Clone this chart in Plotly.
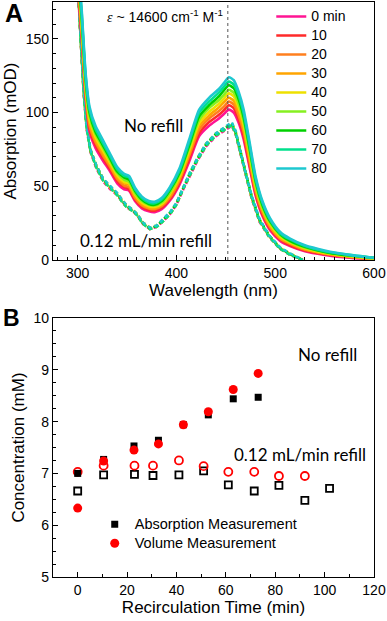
import plotly.graph_objects as go

# ---------------- Panel A data ----------------
wl_solid = [296, 300, 304, 308, 312, 318, 325, 332, 340, 347, 352, 358, 365, 372, 378, 385, 393,
            403, 413, 423, 433, 443, 448, 453, 458, 463, 468, 474, 480, 487, 495, 505, 515, 530,
            550, 575, 600]

no_refill_0 = [230, 185, 150, 110, 87, 76, 68, 61, 52, 48, 47, 40, 35, 33, 32.5, 34.5, 40, 51, 67, 84, 91, 96, 99, 102, 100, 93, 82, 63, 44, 30, 20, 13, 9.5, 6, 3.5, 1.5, 0.5]
no_refill_10 = [233, 188, 153, 112, 89, 78, 70, 62.5, 53.5, 49.5, 48, 41, 36, 34, 33.5, 35.5, 41, 52.5, 69, 86, 93.5, 98.5, 101.5, 105, 103, 95.5, 84.5, 65, 45.5, 31, 21, 14, 10, 6.5, 4, 2, 0.5]
no_refill_20 = [235, 190, 155, 114, 91, 80, 71.5, 64, 55, 50.5, 49.5, 42, 37, 35, 34.5, 36.5, 42, 54, 71, 88.5, 96, 101, 104, 107.5, 105.5, 98, 87, 67, 47, 32.5, 22, 14.5, 11, 7, 4.5, 2, 0.5]
no_refill_30 = [238, 193, 158, 116, 93, 81.5, 73, 65.5, 56, 52, 51, 43.5, 38, 35.5, 35, 37.5, 43.5, 55, 72.5, 91, 98, 103.5, 107, 110, 108, 101, 89.5, 69.5, 49, 34, 23, 15, 11.5, 7.5, 4.5, 2.5, 1]
no_refill_40 = [240, 195, 160, 118.5, 95.5, 83.5, 75, 67, 57.5, 53, 52, 44.5, 39, 36.5, 36, 38, 44.5, 56.5, 74.5, 93, 100.5, 106, 109.5, 113, 111, 103.5, 92, 71.5, 50.5, 35, 24, 16, 12, 8, 5, 2.5, 1]
no_refill_50 = [243, 198, 163, 120.5, 97.5, 85.5, 77, 68.5, 59, 54.5, 53, 45.5, 40, 37.5, 37, 39, 45.5, 58, 76.5, 95, 103, 108.5, 112, 115.5, 113.5, 106, 94.5, 73.5, 52, 36, 25, 17, 12.5, 8.5, 5.5, 3, 1]
no_refill_60 = [245, 200, 165, 123, 100, 87, 78.5, 70, 60, 56, 54.5, 47, 41, 38, 37.5, 40, 47, 59, 78, 97.5, 105, 111, 115, 118.5, 116.5, 109, 97, 76, 54, 37.5, 26, 17.5, 13, 9, 5.5, 3, 1.5]
no_refill_70 = [248, 203, 168, 125, 102, 89, 80, 71.5, 61.5, 57, 56, 48, 42, 39, 38.5, 41, 48, 60.5, 80, 100, 107.5, 113.5, 117.5, 121, 119, 111.5, 99.5, 78, 55.5, 39, 27, 18, 14, 9.5, 6, 3.5, 1.5]
no_refill_80 = [250, 205, 170, 127, 104, 91, 82, 73, 63, 58.5, 57, 49, 43, 40, 39.5, 42, 49, 62, 82, 102, 110, 116, 120, 124, 122, 114, 102, 80, 57, 40, 28, 19, 14.5, 10, 6.5, 3.5, 1.5]

wl_dash = [296, 300, 303, 306, 309, 313, 319, 326, 333, 340, 346, 350, 355, 360, 366, 373, 380, 387,
           394, 400, 407, 414, 421, 430, 440, 447, 452, 456, 460, 464, 469, 476, 484, 494, 505, 515, 528]

refill_0 = [240, 184, 149, 114, 89, 73, 62, 53, 48, 44, 38.5, 35.5, 33.5, 30.5, 24.5, 21, 22.5, 26.5, 31.5, 37.5, 48, 58, 67, 77, 84, 87, 89, 91, 85, 74, 60, 42, 26, 15.5, 7.5, 3.5, 0]
refill_10 = [240, 185, 150, 115, 90, 74, 63, 54, 49, 44.5, 39, 36, 34, 31, 25, 21.5, 23, 27, 32, 38, 49, 59, 68, 78, 85, 88, 90, 92, 86, 75, 61, 43, 27, 16, 8, 4, 0]
refill_20 = [241, 186, 150, 115, 90, 74.5, 63.5, 54.5, 49, 45, 39.5, 36.5, 34.5, 31, 25.5, 22, 23, 27.5, 32.5, 38.5, 49.5, 59.5, 68.5, 78.5, 85.5, 88.5, 90.5, 92.5, 86.5, 75.5, 61, 43, 27, 16, 8, 4, 0]
refill_30 = [239, 184, 149, 114, 89.5, 73.5, 62.5, 53.5, 48.5, 44, 38.5, 35.5, 33.5, 30.5, 24.5, 21, 22.5, 26.5, 31.5, 37.5, 48.5, 58.5, 67.5, 77.5, 84.5, 87.5, 89.5, 91.5, 85.5, 74.5, 60.5, 42.5, 26.5, 15.5, 7.5, 3.5, 0]
refill_40 = [241, 186, 151, 116, 91, 75, 64, 55, 49.5, 45, 39.5, 36.5, 34.5, 31.5, 25.5, 22, 23.5, 27.5, 32.5, 38.5, 49.5, 59.5, 68.5, 79, 86, 89, 91, 93, 87, 76, 61.5, 43.5, 27.5, 16.5, 8.5, 4.5, 0]
refill_50 = [240, 185, 150, 115, 90, 74, 63, 54, 49, 44.5, 39, 36, 34, 31, 25, 21.5, 23, 27, 32, 38, 49, 59, 68, 78, 85, 88, 90, 92, 86, 75, 61, 43, 27, 16, 8, 4, 0]
refill_60 = [241, 186, 150, 115, 90.5, 74.5, 63.5, 54.5, 49.5, 45, 39.5, 36.5, 34, 31, 25, 21.5, 23, 27.5, 32.5, 38.5, 49.5, 59.5, 68.5, 78.5, 85.5, 88.5, 90.5, 92.5, 86.5, 75.5, 61.5, 43.5, 27.5, 16.5, 8, 4, 0]
refill_70 = [239, 184, 149, 114.5, 89.5, 73.5, 62.5, 53.5, 48.5, 44, 38.5, 35.5, 33.5, 30.5, 24.5, 21, 22.5, 26.5, 31.5, 37.5, 48.5, 58.5, 67.5, 77.5, 84.5, 87.5, 89.5, 91.5, 85.5, 74.5, 60.5, 42.5, 26.5, 15.5, 7.5, 3.5, 0]
refill_80 = [241, 186, 151, 116, 91, 75, 64, 55, 50, 45.5, 40, 37, 34.5, 31.5, 25.5, 22, 23.5, 28, 33, 39, 50, 60, 69, 79, 86, 89.5, 91.5, 93.5, 87.5, 76, 62, 44, 28, 16.5, 8.5, 4.5, 0]

time_labels = ["0 min", "10", "20", "30", "40", "50", "60", "70", "80"]
colors = ["#ff1493", "#ff2a2a", "#ff7f1e", "#ffa500", "#eee000", "#86f020", "#00d000", "#00e08c", "#1ec8d0"]

solid_series = [no_refill_0, no_refill_10, no_refill_20, no_refill_30, no_refill_40,
                no_refill_50, no_refill_60, no_refill_70, no_refill_80]
dash_series = [refill_0, refill_10, refill_20, refill_30, refill_40,
               refill_50, refill_60, refill_70, refill_80]

peak_wavelength = 452

# ---------------- Panel B data ----------------
t_norefill = [0, 10.5, 22.8, 32.7, 42.8, 52.9, 63, 73.1]
abs_norefill = [7.0, 7.27, 7.53, 7.64, 7.94, 8.13, 8.44, 8.47]
vol_norefill = [6.33, 7.24, 7.45, 7.57, 7.94, 8.19, 8.62, 8.93]

t_refill_abs = [0, 10.5, 23, 30.5, 41, 51, 61, 71.5, 81.5, 92, 102]
abs_refill = [6.66, 6.97, 6.98, 6.96, 6.97, 7.05, 6.78, 6.66, 6.77, 6.48, 6.71]
t_refill_vol = [0, 10.5, 23, 30.5, 41, 51, 61, 71.5, 81.5, 92]
vol_refill = [7.03, 7.15, 7.15, 7.15, 7.25, 7.14, 7.03, 7.03, 6.95, 6.95]

legend_b_names = ["Absorption Measurement", "Volume Measurement"]

# ---------------- Figure ----------------
FONT = "Liberation Sans, Arial, sans-serif"
ANN_FONT = "Lato, Open Sans, sans-serif"


def big(txt, size=14):
    return f"<span style='font-size:{size}px'>{txt}</span>"


fig = go.Figure()

for ys, c in zip(dash_series, colors):
    fig.add_trace(go.Scatter(x=wl_dash, y=ys, mode="lines", line=dict(color=c, width=2.5, dash="4px,3px"),
                             showlegend=False, xaxis="x", yaxis="y", hoverinfo="skip"))
for ys, c, name in zip(solid_series, colors, time_labels):
    fig.add_trace(go.Scatter(x=wl_solid, y=ys, mode="lines", name=big(name, 14),
                             line=dict(color=c, width=2.6, shape="spline", smoothing=0.6),
                             xaxis="x", yaxis="y", legend="legend"))

# Panel B
fig.add_trace(go.Scatter(x=t_refill_abs, y=abs_refill, mode="markers", showlegend=False,
                         marker=dict(symbol="square-open", size=7, color="black", line=dict(width=1.8)),
                         xaxis="x2", yaxis="y2"))
fig.add_trace(go.Scatter(x=t_refill_vol, y=vol_refill, mode="markers", showlegend=False,
                         marker=dict(symbol="circle-open", size=8, color="red", line=dict(width=1.8)),
                         xaxis="x2", yaxis="y2"))
fig.add_trace(go.Scatter(x=t_norefill, y=abs_norefill, mode="markers", name=big(legend_b_names[0], 14.5),
                         marker=dict(symbol="square", size=7, color="black"),
                         xaxis="x2", yaxis="y2", legend="legend2"))
fig.add_trace(go.Scatter(x=t_norefill, y=vol_norefill, mode="markers", name=big(legend_b_names[1], 14.5),
                         marker=dict(symbol="circle", size=9, color="red"),
                         xaxis="x2", yaxis="y2", legend="legend2"))

axis_common = dict(showline=True, linecolor="black", linewidth=1.3, mirror=True, ticks="inside",
                   ticklen=5, tickwidth=1.2, tickcolor="black", showgrid=False, zeroline=False,
                   automargin=False,
                   tickfont=dict(family=FONT, size=14, color="black"),
                   title_font=dict(family=FONT, size=17, color="black"))

fig.update_layout(
    width=387, height=621,
    margin=dict(l=53, r=13, t=2, b=44),
    paper_bgcolor="white", plot_bgcolor="white",
    xaxis=dict(domain=[0, 1], anchor="y", range=[275, 600], dtick=100, tick0=0,
               minor=dict(dtick=10, ticks="inside", ticklen=3, tickcolor="black"),
               title=dict(text="Wavelength (nm)", standoff=2), **axis_common),
    yaxis=dict(domain=[0.5513, 1.0], anchor="x", range=[0, 175], dtick=50, tick0=0,
               minor=dict(dtick=10, ticks="inside", ticklen=3, tickcolor="black"),
               title=dict(text="Absorption (mOD)", standoff=4), **axis_common),
    xaxis2=dict(domain=[0, 1], anchor="y2", range=[-10, 120], dtick=20, tick0=0,
                minor=dict(dtick=10, ticks="inside", ticklen=3, tickcolor="black"),
                title=dict(text="Recirculation Time (min)", standoff=4), **axis_common),
    yaxis2=dict(domain=[0, 0.4504], anchor="x2", range=[5, 10], dtick=1, tick0=0,
                minor=dict(dtick=0.25, ticks="inside", ticklen=3, tickcolor="black"),
                title=dict(text="Concentration (mM)", standoff=4), **axis_common),
    legend=dict(x=0.68, y=1.0, xanchor="left", yanchor="top", bgcolor="rgba(0,0,0,0)",
                font=dict(family=FONT, size=11.5, color="black"), tracegroupgap=0, borderwidth=0),
    legend2=dict(x=0.13, y=0.117, xanchor="left", yanchor="top", bgcolor="rgba(0,0,0,0)",
                 font=dict(family=FONT, size=11.5, color="black"), borderwidth=0),
    showlegend=True,
)

fig.add_shape(type="line", xref="x", yref="y domain", x0=peak_wavelength, x1=peak_wavelength, y0=0, y1=1,
              line=dict(color="#555555", width=1, dash="dot"))

annots = [
    dict(x=388, y=165.5, xref="x", yref="y",
         text="<i style='font-family:Liberation Serif'>ε</i> ~ 14600 cm<sup>-1</sup> M<sup>-1</sup>",
         font=dict(family=FONT, size=14, color="black")),
    dict(x=377, y=91, xref="x", yref="y", text="No refill", font=dict(family=ANN_FONT, size=17, color="black")),
    dict(x=369, y=13.5, xref="x", yref="y", text="0.12 mL/min refill", font=dict(family=ANN_FONT, size=17, color="black")),
    dict(x=101, y=9.29, xref="x2", yref="y2", text="No refill", font=dict(family=ANN_FONT, size=17, color="black")),
    dict(x=90, y=7.36, xref="x2", yref="y2", text="0.12 mL/min refill", font=dict(family=ANN_FONT, size=17, color="black")),
    dict(x=-50 / 321, y=(577 - 12.5) / 575, xref="paper", yref="paper", text="<b>A</b>", xanchor="left",
         yanchor="middle", font=dict(family=FONT, size=25, color="black")),
    dict(x=-52 / 321, y=(577 - 318) / 575, xref="paper", yref="paper", text="<b>B</b>", xanchor="left",
         yanchor="middle", font=dict(family=FONT, size=23, color="black")),
]
for a in annots:
    fig.add_annotation(showarrow=False, **a)

fig.write_html("out.html", config={"displayModeBar": False},
               post_script="document.body.style.margin='0';document.body.style.overflow='hidden';")
